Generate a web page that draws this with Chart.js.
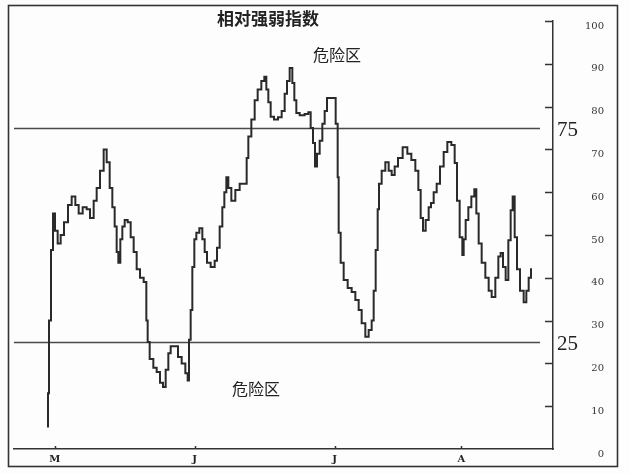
<!DOCTYPE html>
<html><head><meta charset="utf-8">
<script src="https://cdn.jsdelivr.net/npm/chart.js@4.4.0/dist/chart.umd.min.js"></script>
<style>html,body{margin:0;padding:0;background:#fff;}#wrap{width:629px;height:474px;}</style>
</head><body><div id="wrap"><canvas id="c" width="629" height="474"></canvas></div>
<script>
// trading day index (M = day 1)
const days = [0,0,0.3,0.6,0.9,1.2,1.7,2.1,2.7,3.3,3.8,4.4,4.8,5.6,6.0,6.6,7.1,7.5,8.1,8.6,9.0,9.5,9.8,10.2,10.4,10.7,11.0,11.3,11.7,12.2,12.6,13.1,13.5,14.1,14.6,14.9,15.0,15.5,16.1,16.5,17.1,17.4,17.9,18.2,18.6,19.2,19.8,20.3,20.9,21.0,21.3,21.5,21.8,22.1,22.4,23.0,23.3,23.7,24.0,24.8,25.2,25.5,26.0,26.3,26.6,26.9,27.2,27.8,28.4,29.1,29.7,29.9,30.2,30.8,31.2,31.7,32.3,32.6,32.9,33.2,33.6,34.2,34.8,35.3,35.7,36.0,36.5,36.8,37.1,37.4,38.1,38.9,39.2,39.6,39.9,40.2,40.5,41.0,41.3,41.7,42.0,42.9,43.4,43.5,43.7,44.1,44.6,45.3,45.8,46.4,46.8,47.3,47.9,48.3,48.8,48.9,49.4,49.5,49.8,50.3,50.9,51.3,51.8,52.2,52.8,53.6,54.2,54.8,55.4,55.7,56.1,56.4,56.9,57.3,57.6,58.1,58.5,59.1,59.6,60.2,60.8,61.2,61.5,62.0,62.3,62.4,62.9,63.2,63.8,64.1,64.4,64.8,65.3,65.9,66.3,66.8,67.4,67.7,68.1,68.4,68.9,69.2,69.6,69.8,70.2,70.5,71.1,71.6,71.9,72.3,72.6];
const rsi = [5,13,30,46.5,55,51,48,50,53,57,59,57,55,56.5,56,54,58,61,65,70,67,61,56.5,52,46,43.5,49,52,53.5,53,49.5,46,42,40,39,30,25,21,19,18,15.5,14.5,18.5,22.4,24,24,21.5,20,17.7,16,25.5,32.5,42.5,49,50.5,51.6,49,46,43.5,42.5,44,47,52,56.5,60,63.5,61,58,60.5,62,62,68,73,77,81.5,84,86,87,84,81,77.6,77,77.5,79,83,86,89,85.5,81.5,78.5,78,78.3,78.7,75,71.5,66,69,72,76,79,82,82,76,63.5,50.5,43.5,39.5,37.6,36.7,34.8,32.5,29.4,26.2,27.8,30,37,46.5,56,62,65,67,65,64,66,68,70.5,69,67.5,65,60.5,54,51,53.5,56.5,57.5,60,62,66,69.4,71.7,71,66.8,58,49.5,45.3,49,53.5,56.5,59,60.7,55,48,43.5,40,37,35.5,40,45,45.8,42.5,39.5,48.8,55.8,59,49.5,42,37,34.3,37,40,42];
const monthTicks = [1,22,43,62];
const monthLabels = ['M','J','J','A'];
const yTicks = [0,10,20,30,40,50,60,70,80,90,100];
const refLevels = [75,25];
const titleText = '相对强弱指数';
const zoneText = '危险区';

const deco = {
  id:'deco',
  beforeDraw(chart){
    const ctx = chart.ctx;
    ctx.save(); ctx.fillStyle='#fdfdfd'; ctx.fillRect(0,0,chart.width,chart.height); ctx.restore();
  },
  beforeDatasetsDraw(chart){
    const {ctx, chartArea:a, scales:{x,y}} = chart;
    ctx.save();
    ctx.strokeStyle='#4a4a4a'; ctx.lineWidth=1.3;
    refLevels.forEach(v=>{
      const py = Math.round(y.getPixelForValue(v))+0.5;
      ctx.beginPath(); ctx.moveTo(a.left,py); ctx.lineTo(a.right-13,py); ctx.stroke();
    });
    ctx.restore();
  },
  afterDraw(chart){
    const {ctx, chartArea:a, scales:{x,y}} = chart;
    ctx.save();
    ctx.strokeStyle='#333'; ctx.lineWidth=1.6;
    ctx.strokeRect(8.5,5.5,609,461);
    ctx.lineWidth=1.5;
    yTicks.forEach(v=>{
      if(v===0) return;
      const py = Math.round(y.getPixelForValue(v))+0.5;
      ctx.beginPath(); ctx.moveTo(a.right-8,py); ctx.lineTo(a.right,py); ctx.stroke();
    });
    monthTicks.forEach(d=>{
      const px = Math.round(x.getPixelForValue(d))+0.5;
      ctx.beginPath(); ctx.moveTo(px,a.bottom); ctx.lineTo(px,a.bottom-3); ctx.stroke();
    });
    ctx.fillStyle='#222'; ctx.textBaseline='middle';
    ctx.font='21px "Liberation Serif"'; ctx.textAlign='left';
    refLevels.forEach(v=> ctx.fillText(String(v), a.right+4, y.getPixelForValue(v)+2));
    ctx.textAlign='center';
    ctx.font='bold 17px "Noto Sans CJK SC"';
    ctx.fillText(titleText, 268, 19);
    ctx.font='16px "Noto Sans CJK SC"';
    ctx.fillText(zoneText, 337, 55);
    ctx.fillText(zoneText, 256, 389);
    ctx.restore();
  }
};

new Chart(document.getElementById('c'), {
  type:'line',
  data:{datasets:[{
    data: days.map((d,i)=>({x:d,y:rsi[i]})),
    borderColor:'#2a2a2a', borderWidth:2, pointRadius:0, stepped:'middle', fill:false
  }]},
  options:{
    responsive:false, animation:false, devicePixelRatio:1,
    layout:{padding:{left:14,top:21,right:25,bottom:0}},
    plugins:{legend:{display:false}, tooltip:{enabled:false}, title:{display:false}},
    scales:{
      x:{type:'linear', min:-5.1, max:75.75, position:'bottom',
        grid:{display:false, drawTicks:false},
        border:{display:true, color:'#333', width:1.5},
        afterBuildTicks:s=>{ s.ticks = monthTicks.map(v=>({value:v})); },
        ticks:{callback:(v,i)=>monthLabels[i], padding:4, autoSkip:false, maxRotation:0,
          font:{family:'DejaVu Serif', size:10, weight:'bold'}, color:'#222'},
        afterFit:s=>{ s.height = 25; s.paddingLeft = 0; s.paddingRight = 0; }
      },
      y:{type:'linear', min:0, max:100, position:'right',
        grid:{display:false, drawTicks:false},
        border:{display:true, color:'#333', width:1.5},
        afterBuildTicks:s=>{ s.ticks = yTicks.map(v=>({value:v})); },
        ticks:{padding:30, crossAlign:'far', labelOffset:5, autoSkip:false,
          font:{family:'DejaVu Serif', size:10}, color:'#333'},
        afterFit:s=>{ s.width = 51; s.paddingTop = 0; s.paddingBottom = 0; }
      }
    }
  },
  plugins:[deco]
});
</script></body></html>
